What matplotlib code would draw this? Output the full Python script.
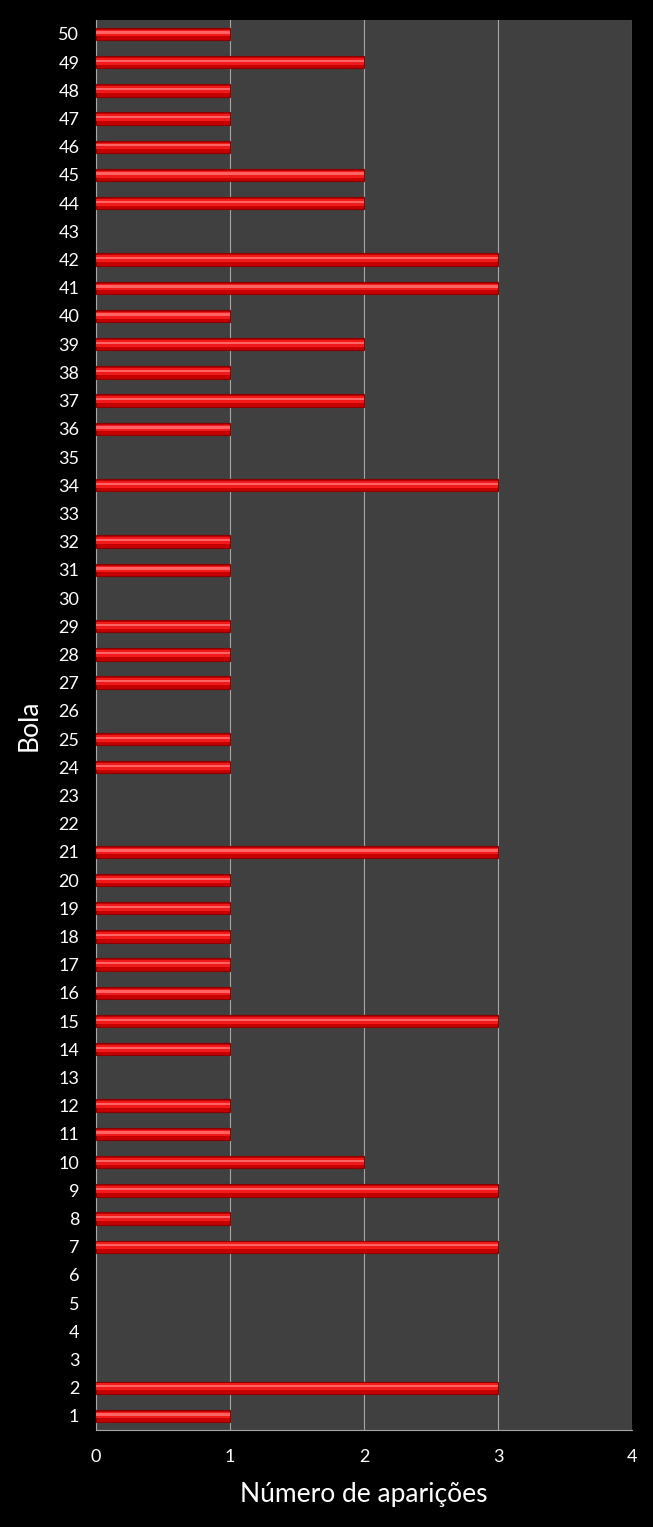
import matplotlib.pyplot as plt

BOLAS = list(range(1, 51))
APARICOES = [
    1, 3, 0, 0, 0, 0, 3, 1, 3, 2,
    1, 1, 0, 1, 3, 1, 1, 1, 1, 1,
    3, 0, 0, 1, 1, 0, 1, 1, 1, 0,
    1, 1, 0, 3, 0, 1, 2, 1, 2, 1,
    3, 3, 0, 2, 2, 1, 1, 1, 2, 1,
]
X_TICKS = [0, 1, 2, 3, 4]

plt.rcParams["font.family"] = ["Lato", "DejaVu Sans"]

fig = plt.figure(figsize=(6.53, 15.27), dpi=100, facecolor="black")
ax = fig.add_axes([0.147, 0.0635, 0.821, 0.9235])
ax.set_facecolor("#404040")

# so as bolas que saíram (zero fica sem marca)
ys = [b for b, n in zip(BOLAS, APARICOES) if n > 0]
ns = [n for n in APARICOES if n > 0]

# corpo da barra + brilho para imitar o efeito 3D
ax.barh(ys, ns, height=0.44, color="#c40000", edgecolor="#8a0000", linewidth=0.8, zorder=3)
ax.barh([y + 0.03 for y in ys], ns, height=0.24, color="#f01a1a", linewidth=0, zorder=4)
ax.barh([y + 0.05 for y in ys], ns, height=0.08, color="#ff6464", linewidth=0, zorder=5)

ax.set_xlim(0, 4)
ax.set_ylim(0.5, 50.5)
ax.set_xticks(X_TICKS)
ax.set_yticks(BOLAS)
ax.grid(axis="x", color="#a6a6a6", linewidth=0.8, zorder=1)
ax.tick_params(colors="white", labelsize=13, length=0)
ax.tick_params(axis="x", pad=14)
ax.tick_params(axis="y", pad=12)

for side in ("top", "right"):
    ax.spines[side].set_visible(False)
for side in ("left", "bottom"):
    ax.spines[side].set_color("#a6a6a6")

ax.set_ylabel("Bola", color="white", fontsize=19, labelpad=12)
ax.set_xlabel("Número de aparições", color="white", fontsize=19, labelpad=12)

fig.savefig("out.png", facecolor="black")
